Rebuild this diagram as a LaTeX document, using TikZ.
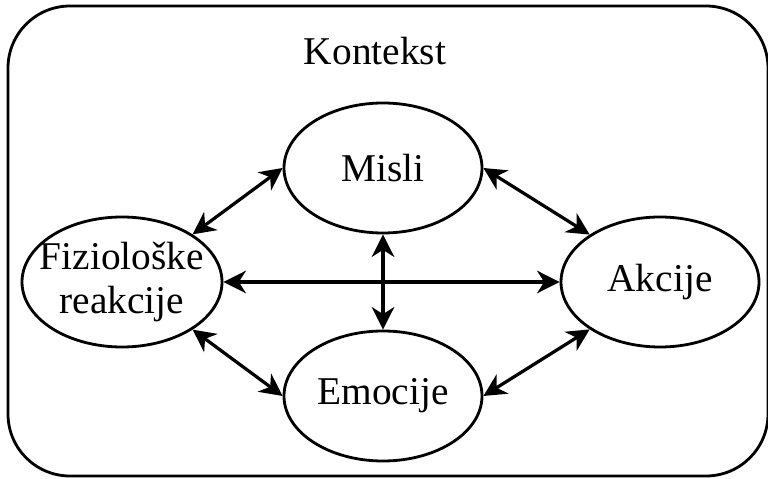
\documentclass[tikz,border=0pt]{standalone}
\usepackage{fontspec}
\setmainfont{Liberation Serif}
\usetikzlibrary{shapes.geometric,arrows.meta}

\begin{document}
\begin{tikzpicture}[
  tekst/.style={font=\fontsize{28}{32}\selectfont, align=center},
  pojam/.style={ellipse, draw, line width=2pt, inner sep=0pt,
    minimum width=4.95cm, minimum height=3.25cm, tekst},
  veza/.style={line width=2.3pt,
    {Stealth[length=16pt, width=16pt, inset=5pt]}-{Stealth[length=16pt, width=16pt, inset=5pt]}}
]
\useasboundingbox (0,0) rectangle (19.2,11.95);

% Frame (context)
\draw[line width=2pt, rounded corners=1.55cm] (0.2,11.8) rectangle (19.2,0.05);
\node (kontekst) [anchor=base, tekst] at (9.375,10.325) {Kontekst};

% Four ellipses
\node (misli) [pojam] at (9.575,7.75) {Misli};
\node (emocije) [pojam] at (9.575,2.05) {Emocije};
\node (fiz) [pojam, minimum width=5cm] at (3.05,4.9) {};
\node (fiztekst) [tekst] at (fiz) {Fiziološke\\reakcije}; % two lines, kept inside
\node (akcije) [pojam] at (16.5,4.9) {Akcije};

% Double arrows between them
\draw[veza] (fiz.34) -- (misli.west);
\draw[veza] (misli.east) -- (akcije.146);
\draw[veza] (fiz.-34) -- (emocije.west);
\draw[veza] (emocije.east) -- (akcije.214);
\draw[veza] (fiz.east) -- (akcije.west); % horizontal
\draw[veza] (misli.south) -- (emocije.north); % vertical

\end{tikzpicture}
\end{document}
